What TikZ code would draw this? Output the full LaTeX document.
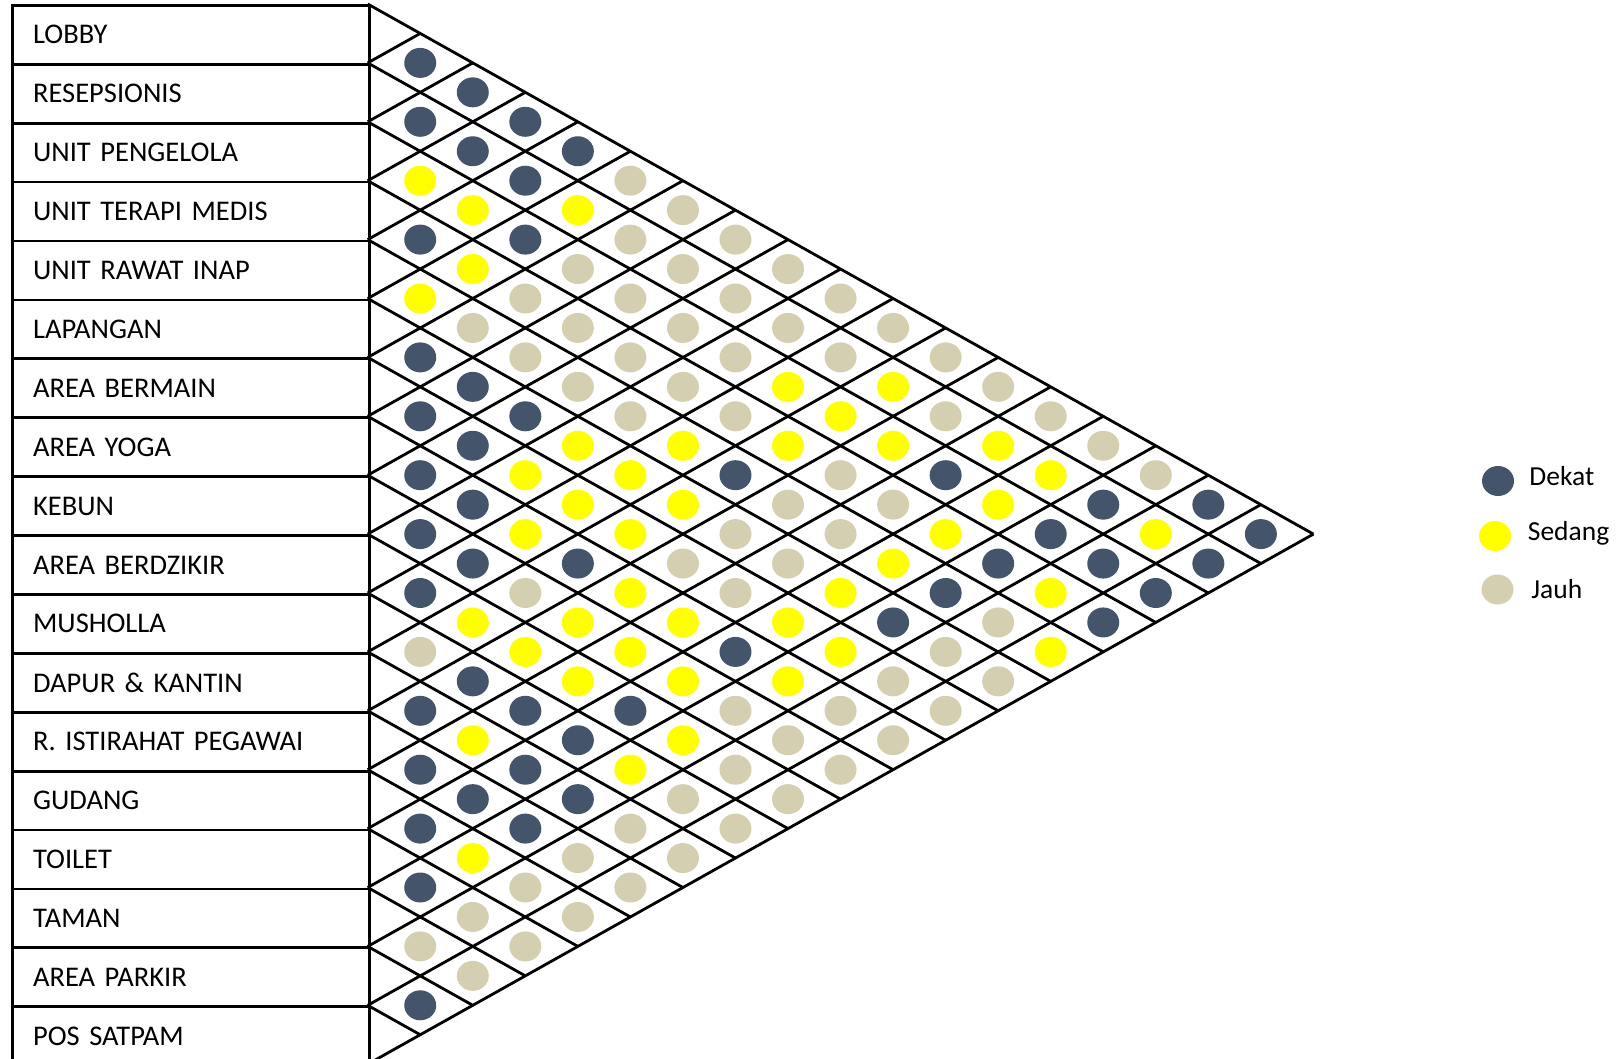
\documentclass[tikz,border=0pt]{standalone}
\usepackage{fontspec}
\setmainfont{Carlito}
\usetikzlibrary{calc, shapes.geometric}
\definecolor{dekat}{RGB}{68,84,106}
\definecolor{sedang}{RGB}{255,255,0}
\definecolor{jauh}{RGB}{212,207,176}

\begin{document}
\begin{tikzpicture}[x=1pt,y=-1pt,line width=2.8pt,
  ruang/.style={draw,anchor=north west,minimum width=356.3pt,minimum height=58.9pt,inner xsep=20.3pt,inner ysep=0pt,text width=315.7pt,align=left,font=\fontsize{28.5}{30}\selectfont},
  bulat/.style={ellipse,draw=none,inner sep=0pt,minimum width=32pt,minimum height=30pt},
  dk/.style={bulat,fill=dekat},sd/.style={bulat,fill=sedang},jh/.style={bulat,fill=jauh},
  leg/.style={anchor=base west,inner sep=0pt,font=\fontsize{27.5}{30}\selectfont}]
  \useasboundingbox (0,0) rectangle (1624,1059);
  % daftar ruang
  \foreach \k/\t in {0/LOBBY,1/RESEPSIONIS,2/UNIT PENGELOLA,3/UNIT TERAPI MEDIS,4/UNIT RAWAT INAP,5/LAPANGAN,6/AREA BERMAIN,7/AREA YOGA,8/KEBUN,9/AREA BERDZIKIR,10/MUSHOLLA,11/DAPUR \& KANTIN,12/R. ISTIRAHAT PEGAWAI,13/GUDANG,14/TOILET,15/TAMAN,16/AREA PARKIR,17/POS SATPAM}
    \node[ruang] (r\k) at (11.4,{4+\k*58.9}) {\t};
  % garis matriks
  \foreach \k in {0,...,18}{
    \coordinate (e\k) at (367.7,{4+\k*58.9});
    \draw (e\k) -- ++({(18-\k)*52.54},{(18-\k)*29.45});
    \draw (e\k) -- ++({\k*52.54},{-\k*29.45});
  }
  % hubungan antar ruang
  \foreach \i/\row in {
    0/{dk,dk,dk,dk,jh,jh,jh,jh,jh,jh,jh,jh,jh,jh,jh,dk,dk},
    1/{dk,dk,dk,sd,jh,jh,jh,jh,jh,sd,jh,sd,sd,dk,sd,dk},
    2/{sd,sd,dk,jh,jh,jh,jh,sd,sd,sd,dk,sd,dk,dk,dk},
    3/{dk,sd,jh,jh,jh,jh,jh,sd,jh,jh,sd,dk,sd,dk},
    4/{sd,jh,jh,jh,jh,sd,dk,jh,jh,sd,dk,jh,sd},
    5/{dk,dk,dk,sd,sd,sd,jh,jh,sd,dk,jh,jh},
    6/{dk,dk,sd,sd,sd,jh,jh,sd,sd,jh,jh},
    7/{dk,dk,sd,dk,sd,sd,dk,sd,jh,jh},
    8/{dk,dk,jh,sd,sd,sd,jh,jh,jh},
    9/{dk,sd,sd,sd,dk,sd,jh,jh},
    10/{jh,dk,dk,dk,sd,jh,jh},
    11/{dk,sd,dk,dk,jh,jh},
    12/{dk,dk,dk,jh,jh},
    13/{dk,sd,jh,jh},
    14/{dk,jh,jh},
    15/{jh,jh},
    16/{dk}}
    \foreach \c [count=\n] in \row
      \node[\c] (c\i-\n) at ({367.7+\n*52.54},{4+(2*\i+\n+1)*29.45}) {};
  % keterangan
  \node[dk] (kd) at (1498,481) {};
  \node[sd] (ks) at (1495,536) {};
  \node[jh] (kj) at (1497.5,589.5) {};
  \node[leg] (td) at (1528,485) {Dekat};
  \node[leg] (ts) at (1526.5,540) {Sedang};
  \node[leg] (tj) at (1530,598.5) {Jauh};
\end{tikzpicture}
\end{document}
